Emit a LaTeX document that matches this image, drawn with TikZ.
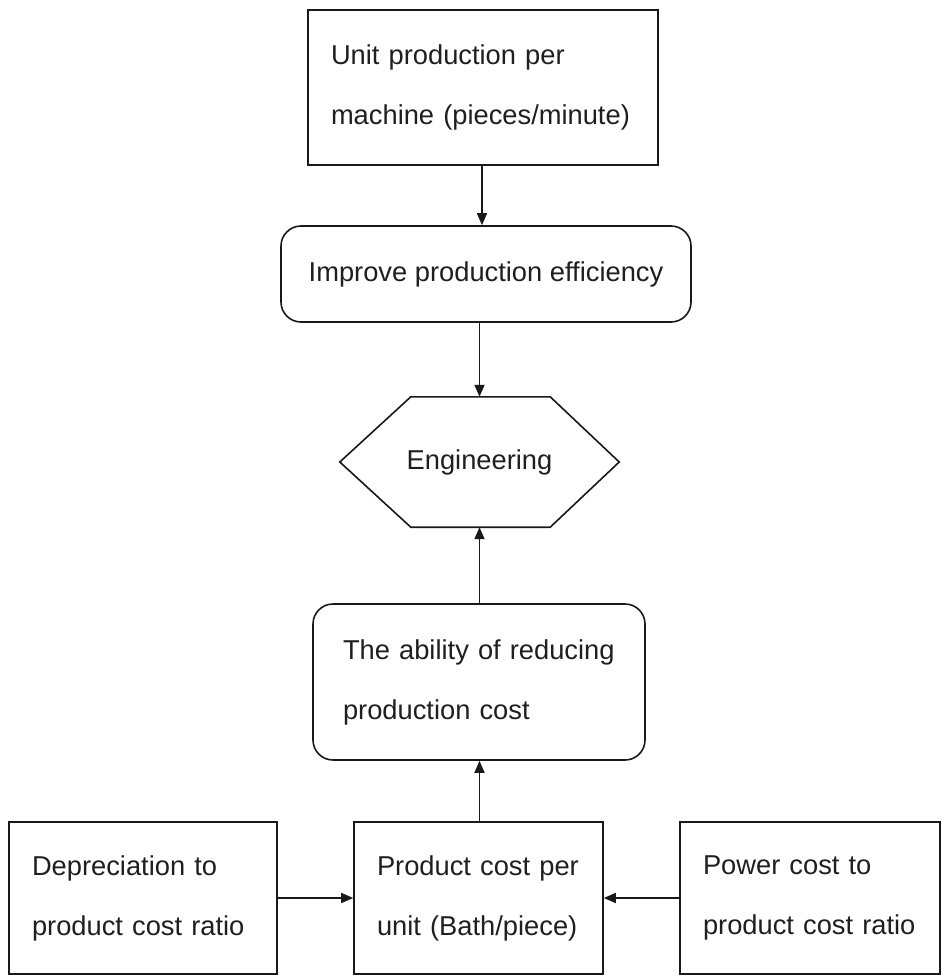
\documentclass[tikz,border=0pt]{standalone}
\usepackage{fontspec}
\setmainfont{Liberation Sans}
\usetikzlibrary{arrows.meta}

\begin{document}
\begin{tikzpicture}[x=1pt,y=-1pt,
  every node/.style={font=\fontsize{27.3}{60}\selectfont, text=black!88},
  plainbox/.style={draw=black!90, line width=1.6pt, rectangle, align=left,
                   inner ysep=0pt},
  roundbox/.style={draw=black!90, line width=1.6pt, rectangle,
                   rounded corners=20pt, inner ysep=0pt},
  edge/.style={line width=1.6pt, draw=black!90},
  arr/.style={edge, -{Triangle[length=12pt,width=10pt]}}
]
\useasboundingbox (0,0) rectangle (943,977);

% top: production rate
\node[plainbox, minimum width=350pt, minimum height=155pt,
      text width=304pt, inner xsep=23pt] (unit) at (483,87.5)
  {Unit production per\\machine (pieces/minute)};

% efficiency step
\node[roundbox, minimum width=410pt, minimum height=96pt, align=center]
  (eff) at (486,274) {Improve production efficiency};

% hexagon: engineering
\node[minimum width=279pt, minimum height=130pt, inner sep=0pt]
  (eng) at (479.5,462) {Engineering};
\draw[edge, line join=miter]
  ([xshift=71pt]eng.north west) -- ([xshift=-69pt]eng.north east)
  -- (eng.east) -- ([xshift=-69pt]eng.south east)
  -- ([xshift=71pt]eng.south west) -- (eng.west) -- cycle;

% cost reduction
\node[roundbox, minimum width=332pt, minimum height=156pt,
      text width=272pt, inner xsep=30pt, align=left] (abil) at (479,682)
  {The ability of reducing\\production cost};

% bottom row
\node[plainbox, minimum width=268pt, minimum height=152pt,
      text width=222pt, inner xsep=23pt] (dep) at (143,898)
  {Depreciation to\\product cost ratio};
\node[plainbox, minimum width=249pt, minimum height=152pt,
      text width=203pt, inner xsep=23pt] (cost) at (478.5,898)
  {Product cost per\\unit (Bath/piece)};
\node[plainbox, minimum width=260pt, minimum height=152pt,
      text width=214pt, inner xsep=23pt] (pow) at (810,898)
  {Power cost to\\product cost ratio};

% connectors
\draw[arr] (unit.south -| 482,0) -- (eff.north -| 482,0);
\draw[arr] (eff.south -| eng.center) -- (eng.north);
\draw[arr] (abil.north -| eng.center) -- (eng.south);
\draw[arr] (cost.north -| eng.center) -- (abil.south -| eng.center);
\draw[arr] (dep.east) -- (cost.west);
\draw[arr] (pow.west) -- (cost.east);
\end{tikzpicture}
\end{document}
